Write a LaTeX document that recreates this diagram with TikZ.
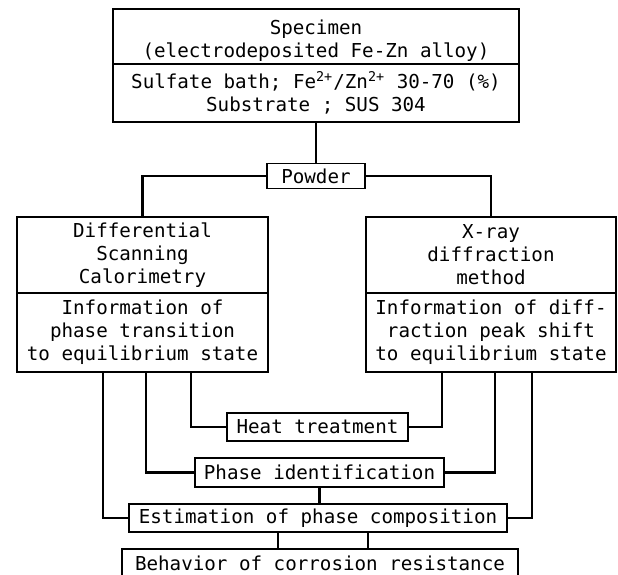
\documentclass[tikz,border=0pt]{standalone}
\usepackage{fontspec}
\setmonofont{DejaVu Sans Mono}
\usetikzlibrary{calc}
\tikzset{
  box/.style={draw,line width=0.9pt,inner sep=0pt,align=center,font=\ttfamily\fontsize{9.6}{11.5}\selectfont},
  link/.style={line width=1.4pt}
}
\begin{document}
\begin{tikzpicture}[x=0.5pt,y=-0.5pt]
\pgfmathsetmacro{\kdsc}{142.5}
\pgfmathsetmacro{\kxrd}{491}
\pgfmathsetmacro{\kup}{255}
\pgfmathsetmacro{\klow}{332.5}
\useasboundingbox (0,0) rectangle (618,575);
\node[box,minimum width=203pt,minimum height=27.5pt](spec) at (316,36.5){\raisebox{-2.5pt}[\height][\depth]{\begin{tabular}{@{}c@{}}Specimen\\(electrodeposited Fe-Zn alloy)\end{tabular}}};
\node[box,minimum width=203pt,minimum height=29pt](bath) at (316,93){Sulfate bath; Fe\textsuperscript{2+}/Zn\textsuperscript{2+} 30-70 (\%)\\Substrate ; SUS 304};
\node[box,minimum width=49pt,minimum height=12.5pt](powder) at (316,176){Powder};
\node[box,minimum width=125.5pt,minimum height=38pt](dsc) at (\kdsc,\kup){Differential\\Scanning\\Calorimetry};
\node[box,minimum width=125.5pt,minimum height=39.5pt](dscinfo) at (\kdsc,\klow){Information of\\phase transition\\to equilibrium state};
\node[box,minimum width=125pt,minimum height=38pt](xrd) at (\kxrd,\kup){X-ray\\diffraction\\method};
\node[box,minimum width=125pt,minimum height=39.5pt](xrdinfo) at (\kxrd,\klow){Information of diff-\\raction peak shift\\to equilibrium state};
\node[box,minimum width=90.5pt,minimum height=14pt](heat) at (317.5,427){Heat treatment};
\node[box,minimum width=124.5pt,minimum height=14.5pt](phase) at (319.5,472.5){Phase identification};
\node[box,minimum width=189pt,minimum height=14pt](estim) at (318,518){Estimation of phase composition};
\node[box,minimum width=198pt,minimum height=14pt](behav) at (320,563){Behavior of corrosion resistance};
%\draw[gray] (0,0) grid[step=50] (618,575);
\draw[link](bath.south)--(bath.south|-powder.north);
\draw[link](powder.west)-|(dsc.north);
\draw[link](powder.east)-|(xrd.north);
\foreach \src/\dx/\dst/\side in {dscinfo/-39.5/estim/west,dscinfo/3.5/phase/west,dscinfo/48.5/heat/west,xrdinfo/-49/heat/east,xrdinfo/4/phase/east,xrdinfo/41/estim/east}{
  \coordinate(\src\dst) at ($(\src.south)+(\dx,0)$);
  \draw[link](\src\dst)|-(\dst.\side);
}
\draw[link](phase.south)--(phase.south|-estim.north);
\foreach \dx/\k in {-40/a,50/b}{
  \coordinate(estim\k) at ($(estim.south)+(\dx,0)$);
  \draw[link](estim\k)--(estim\k|-behav.north);
}
\end{tikzpicture}
\end{document}
